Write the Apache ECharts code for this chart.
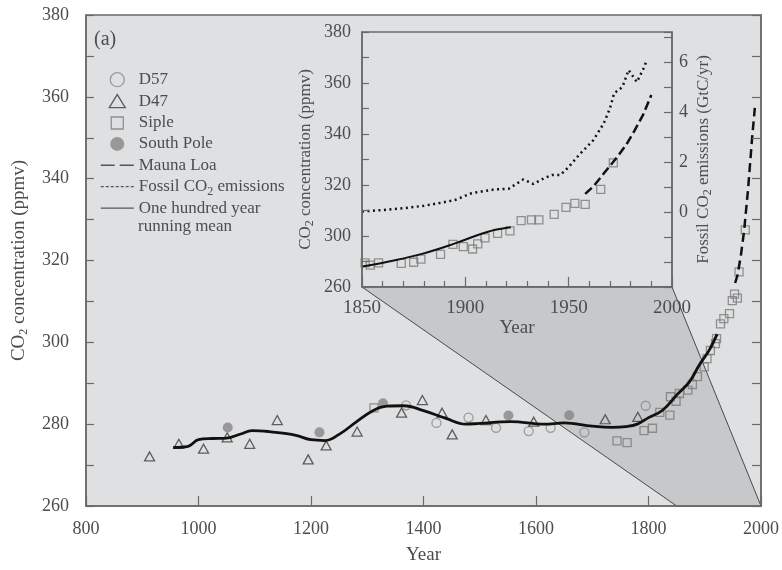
<!DOCTYPE html>
<html>
<head>
<meta charset="utf-8">
<script src="https://cdn.jsdelivr.net/npm/echarts@6/dist/echarts.min.js"></script>
<style>
  html, body { margin: 0; padding: 0; background: #fff; }
  #chart { width: 782px; height: 570px; }
</style>
</head>
<body>
<div id="chart"></div>
<script>
// ---- main panel (800-2000) ----
const d57 = [[1369, 284.6], [1423, 280.3], [1480, 281.6], [1529, 279.1], [1587, 278.3],
  [1626, 279.1], [1686, 278.0], [1795, 284.5]];
const d47 = [[913, 272.1], [965, 275.2], [1009, 274.0], [1051, 276.8], [1091, 275.2],
  [1140, 281.0], [1195, 271.4], [1227, 274.8], [1282, 278.2], [1361, 282.8], [1398, 285.9],
  [1433, 282.8], [1451, 277.5], [1511, 281.0], [1596, 280.6], [1723, 281.2], [1781, 281.8]];
const southPole = [[1052, 279.2], [1215, 278.0], [1328, 285.1], [1551, 282.1], [1659, 282.2]];
const sipleMain = [[1312, 284.0], [1744, 275.9], [1762, 275.5], [1792, 278.4], [1807, 279.0],
  [1820, 282.9], [1838, 282.2], [1839, 286.7], [1849, 285.6], [1855, 287.5], [1870, 288.3],
  [1878, 289.7], [1887, 291.6], [1899, 294.0], [1904, 296.0], [1910, 298.0], [1919, 299.7],
  [1921, 300.9], [1928, 304.5], [1934, 305.8], [1944, 307.0], [1949, 310.2], [1953, 311.8],
  [1958, 310.8], [1961, 317.2], [1972, 327.5]];
const maunaLoaMain = [[1954, 314.5], [1958, 316.3], [1964, 321.0], [1970, 327.3], [1977, 337.4],
  [1984, 349.6], [1989, 357.3]];
const meanMain = [[955, 274.3], [980, 274.5], [1000, 276.2], [1025, 276.5], [1050, 276.6],
  [1075, 277.6], [1095, 278.4], [1125, 278.2], [1150, 277.8], [1175, 277.2], [1200, 276.2],
  [1225, 276.0], [1250, 277.5], [1280, 280.5], [1310, 283.3], [1335, 284.4], [1365, 284.5],
  [1400, 283.3], [1440, 281.4], [1475, 280.0], [1500, 280.2], [1555, 280.6], [1615, 280.0],
  [1650, 280.3], [1700, 279.5], [1735, 279.2], [1760, 279.4], [1780, 280.0], [1800, 281.6],
  [1825, 283.4], [1850, 287.1], [1873, 290.4], [1890, 294.4], [1908, 298.1], [1922, 302.0]];

// ---- inset (1850-2000) ----
const sipleInset = [[1851.5, 289.5], [1854, 288.6], [1858, 289.5], [1869, 289.3], [1875, 289.7],
  [1878.5, 290.9], [1888, 292.8], [1894, 296.7], [1899, 295.8], [1903.5, 294.9], [1906, 296.9],
  [1909.5, 299.3], [1915.6, 301.0], [1921.6, 302.0], [1927, 306.0], [1932, 306.3], [1935.6, 306.3],
  [1943, 308.5], [1948.7, 311.2], [1953, 312.8], [1958, 312.4], [1965.5, 318.3], [1971.6, 328.7]];
const maunaLoaInset = [[1958, 316.5], [1962, 319.5], [1966, 323.5], [1970, 327.5], [1974, 331.5],
  [1978, 336.0], [1982, 341.5], [1986, 347.5], [1990, 355.3]];
const meanInset = [[1850, 288.0], [1863, 290.0], [1879, 293.0], [1895, 297.1], [1911, 301.7],
  [1922, 303.4]];
// GtC/yr, right axis
const fossilInset = [[1850, 0.02], [1860, 0.08], [1870, 0.15], [1880, 0.25], [1887, 0.35],
  [1895, 0.48], [1903, 0.75], [1910, 0.85], [1914, 0.9], [1921, 0.93], [1928, 1.3], [1933, 1.12],
  [1938, 1.35], [1942, 1.48], [1946, 1.48], [1950, 1.8], [1955, 2.28], [1962, 2.88], [1967, 3.55],
  [1970, 4.15], [1972, 4.75], [1976, 5.0], [1979, 5.68], [1983, 5.2], [1986, 5.7], [1988, 6.1]];

const legendNames = ['D57', 'D47', 'Siple', 'South Pole', 'Mauna Loa',
  'Fossil CO2 emissions', 'One hundred year running mean'];

const font = '"Liberation Serif", "Times New Roman", serif';
const textColor = '#4d4d4d';
const axisColor = '#6a6a6a';
const bg = '#dfe0e2';
const sub = { fontFamily: font, fontSize: 12, color: textColor, lineHeight: 12, verticalAlign: 'bottom' };
const plain = v => String(v);

// legend icons padded to the full 33x14 icon box so they don't get stretched
const triangleIcon = 'path://M0,0M33,14M8.5,13.5L24.5,13.5L16.5,0.5Z';
const squareIcon = 'path://M0,0M33,14M10.5,1.5L22.5,1.5L22.5,13.5L10.5,13.5Z';

const chart = echarts.init(document.getElementById('chart'));

function axisBase(extra) {
  return Object.assign({
    type: 'value',
    z: 5,
    splitLine: { show: false },
    axisLine: { show: true, onZero: false, lineStyle: { color: axisColor, width: 1.5 } },
    axisTick: { inside: true, length: 8, lineStyle: { color: axisColor, width: 1.2 } },
    axisLabel: { fontFamily: font, fontSize: 18, color: textColor }
  }, extra);
}

const option = {
  animation: false,
  backgroundColor: '#fff',
  title: {
    text: '(a)', left: 89, top: 25,
    textStyle: { fontFamily: font, fontSize: 20, fontWeight: 'normal', color: textColor }
  },
  grid: [
    { left: 83, top: 15, width: 683, height: 493, show: true, backgroundColor: bg,
      borderColor: axisColor, borderWidth: 1.5 },
    { left: 362, top: 32, width: 310, height: 255, show: true, backgroundColor: bg,
      borderColor: axisColor, borderWidth: 1.5 }
  ],
  xAxis: [
    axisBase({
      gridIndex: 0, min: 800, max: 2000, interval: 200,
      name: 'Year', nameLocation: 'middle', nameGap: 40,
      nameTextStyle: { fontFamily: font, fontSize: 19, color: textColor },
      axisTick: { inside: true, length: 10, lineStyle: { color: axisColor, width: 1.2 } },
      axisLabel: { fontFamily: font, fontSize: 18, color: textColor, margin: 14, formatter: plain }
    }),
    axisBase({
      gridIndex: 1, min: 1850, max: 2000, interval: 50,
      name: 'Year', nameLocation: 'middle', nameGap: 31,
      nameTextStyle: { fontFamily: font, fontSize: 19, color: textColor },
      axisTick: { inside: true, length: 10, lineStyle: { color: axisColor, width: 1.2 } },
      minorTick: { show: true, splitNumber: 5, length: 6, lineStyle: { color: axisColor, width: 1.2 } },
      axisLabel: { fontFamily: font, fontSize: 19, color: textColor, margin: 12, formatter: plain }
    })
  ],
  yAxis: [
    axisBase({
      gridIndex: 0, min: 260, max: 380, interval: 10,
      name: 'CO{s|2} concentration (ppmv)', nameLocation: 'middle', nameGap: 56, nameRotate: 90,
      nameTextStyle: { fontFamily: font, fontSize: 19, color: textColor, lineHeight: 22, rich: { s: sub } },
      axisLabel: { fontFamily: font, fontSize: 18, color: textColor, margin: 17,
        formatter: v => (v % 20 === 0 ? String(v) : '') }
    }),
    axisBase({
      gridIndex: 0, position: 'right', min: 260, max: 380, interval: 10,
      axisTick: { inside: true, length: 9, lineStyle: { color: axisColor, width: 1.2 } },
      axisLabel: { show: false }
    }),
    axisBase({
      gridIndex: 1, min: 280, max: 380, interval: 10,
      name: 'CO{s|2} concentration (ppmv)', nameLocation: 'middle', nameGap: 46, nameRotate: 90,
      nameTextStyle: { fontFamily: font, fontSize: 17, color: textColor, lineHeight: 20, rich: { s: sub } },
      axisTick: { inside: true, length: 7, lineStyle: { color: axisColor, width: 1.2 } },
      // the figure labels its bottom tick "260"
      axisLabel: { fontFamily: font, fontSize: 18, color: textColor, margin: 11,
        formatter: v => (v === 280 ? '260' : (v % 20 === 0 ? String(v) : '')) }
    }),
    axisBase({
      gridIndex: 1, position: 'right', min: -3, max: 7.2, interval: 1,
      name: 'Fossil CO{s|2} emissions (GtC/yr)', nameLocation: 'middle', nameGap: 22, nameRotate: 90,
      nameTextStyle: { fontFamily: font, fontSize: 17, color: textColor, lineHeight: 20, rich: { s: sub } },
      axisTick: { inside: true, length: 8, lineStyle: { color: axisColor, width: 1.2 } },
      axisLabel: { fontFamily: font, fontSize: 18, color: textColor, margin: 7,
        formatter: v => (v >= 0 && v % 2 === 0 ? String(v) : '') }
    })
  ],
  legend: {
    orient: 'vertical', left: 95, top: 64,
    itemWidth: 33, itemHeight: 14, itemGap: 0, selectedMode: false,
    textStyle: { fontFamily: font, fontSize: 17, color: textColor, lineHeight: 21.4, rich: { s: sub } },
    formatter: name => {
      if (name === 'Fossil CO2 emissions') return 'Fossil CO{s|2} emissions';
      if (name === 'One hundred year running mean') return 'One hundred year';
      return name;
    },
    data: [
      { name: legendNames[0], icon: 'circle', itemStyle: { color: 'transparent', borderColor: '#8a8a8a', borderWidth: 1.3 } },
      { name: legendNames[1], icon: triangleIcon, itemStyle: { color: 'transparent', borderColor: '#3c3c3c', borderWidth: 1.3 } },
      { name: legendNames[2], icon: squareIcon, itemStyle: { color: 'transparent', borderColor: '#7a7a7a', borderWidth: 1.3 } },
      { name: legendNames[3], icon: 'circle', itemStyle: { color: '#868686', borderWidth: 0 } },
      { name: legendNames[4], itemStyle: { color: 'transparent', borderWidth: 0 },
        lineStyle: { color: '#555', width: 1.5, type: [14, 5] } },
      { name: legendNames[5], itemStyle: { color: 'transparent', borderWidth: 0 },
        lineStyle: { color: '#555', width: 1.2, type: [3, 2] } },
      { name: legendNames[6], itemStyle: { color: 'transparent', borderWidth: 0 },
        lineStyle: { color: '#555', width: 1.3, type: 'solid' } }
    ]
  },
  series: [
    { name: 'D57', type: 'scatter', xAxisIndex: 0, yAxisIndex: 0, symbol: 'circle', symbolSize: 9,
      itemStyle: { color: 'transparent', borderColor: '#8a8a8a', borderWidth: 1.3 }, data: d57 },
    { name: 'D47', type: 'scatter', xAxisIndex: 0, yAxisIndex: 0, symbol: 'triangle', symbolSize: [10, 9],
      itemStyle: { color: 'transparent', borderColor: '#3c3c3c', borderWidth: 1.3 }, data: d47 },
    { name: 'Siple', type: 'scatter', xAxisIndex: 0, yAxisIndex: 0, symbol: 'rect', symbolSize: 8,
      itemStyle: { color: 'transparent', borderColor: '#7a7a7a', borderWidth: 1.3 }, data: sipleMain },
    { name: 'South Pole', type: 'scatter', xAxisIndex: 0, yAxisIndex: 0, symbol: 'circle', symbolSize: 10,
      itemStyle: { color: '#868686' }, data: southPole },
    { name: 'Mauna Loa', type: 'line', xAxisIndex: 0, yAxisIndex: 0, symbol: 'none',
      lineStyle: { color: '#111', width: 2.5, type: [9, 5] }, data: maunaLoaMain },
    { name: 'One hundred year running mean', type: 'line', xAxisIndex: 0, yAxisIndex: 0, symbol: 'none',
      smooth: 0.4, lineStyle: { color: '#111', width: 2.8 }, data: meanMain },

    { name: 'Siple', type: 'scatter', xAxisIndex: 1, yAxisIndex: 2, symbol: 'rect', symbolSize: 8,
      itemStyle: { color: 'transparent', borderColor: '#7a7a7a', borderWidth: 1.3 }, data: sipleInset },
    { name: 'Mauna Loa', type: 'line', xAxisIndex: 1, yAxisIndex: 2, symbol: 'none',
      lineStyle: { color: '#111', width: 2.5, type: [9, 4] }, data: maunaLoaInset },
    { name: 'Fossil CO2 emissions', type: 'line', xAxisIndex: 1, yAxisIndex: 3, symbol: 'none',
      lineStyle: { color: '#111', width: 2.5, type: [2, 3.5] }, data: fossilInset },
    { name: 'One hundred year running mean', type: 'line', xAxisIndex: 1, yAxisIndex: 2, symbol: 'none',
      smooth: 0.4, lineStyle: { color: '#111', width: 2 }, data: meanInset }
  ]
};

chart.setOption(option);

// zoom cone: from the inset's bottom corners down to 1850-2000 on the main axis
const inA = chart.convertToPixel({ xAxisIndex: 1, yAxisIndex: 2 }, [1850, 280]);
const inB = chart.convertToPixel({ xAxisIndex: 1, yAxisIndex: 2 }, [2000, 280]);
const mainB = chart.convertToPixel({ xAxisIndex: 0, yAxisIndex: 0 }, [2000, 260]);
const mainA = chart.convertToPixel({ xAxisIndex: 0, yAxisIndex: 0 }, [1850, 260]);
chart.setOption({
  graphic: [
    {
      type: 'polygon', z: 1, silent: true,
      shape: { points: [inA, inB, mainB, mainA] },
      style: { fill: '#c7c8ca', stroke: '#4a4a4a', lineWidth: 1 }
    },
    {
      // second line of the last legend label
      type: 'text', x: 138, y: 227, z: 10, silent: true,
      style: { text: 'running mean', fontFamily: font, fontSize: 17, fill: textColor, verticalAlign: 'middle' }
    }
  ]
});
</script>
</body>
</html>
